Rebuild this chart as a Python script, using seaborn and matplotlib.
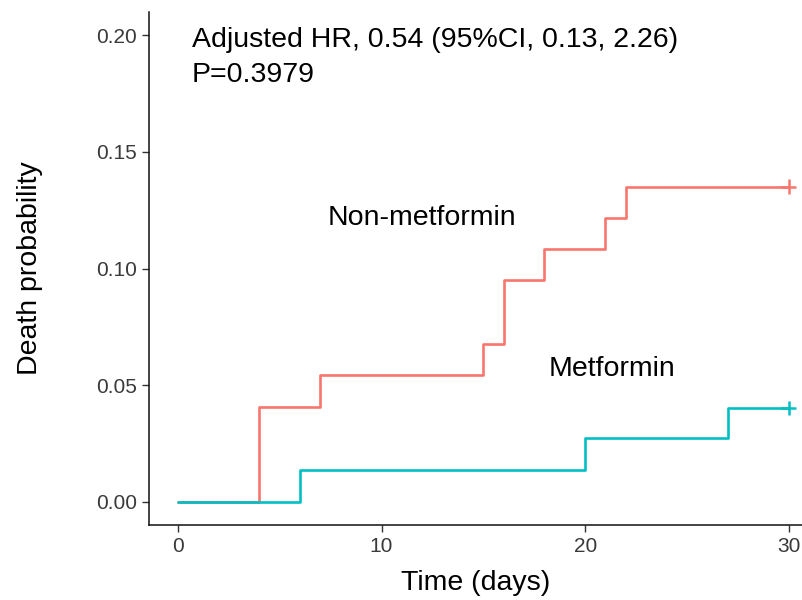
import pandas as pd
import matplotlib
matplotlib.use("Agg")
import matplotlib.pyplot as plt
import seaborn as sns

# ── DATA ──────────────────────────────────────────────────────────────────────

NONMET_TIME = [0, 4, 7, 15, 16, 18, 21, 22, 30]
NONMET_PROB = [0.0, 0.0405, 0.0545, 0.0676, 0.0950, 0.1084, 0.1219, 0.1351, 0.1351]

MET_TIME = [0, 6, 20, 27, 30]
MET_PROB = [0.0, 0.0137, 0.0273, 0.0403, 0.0403]

GROUPS = ["Non-metformin", "Metformin"]
COLORS = {"Non-metformin": "#F8766D", "Metformin": "#00BFC4"}

X_TICKS = [0, 10, 20, 30]
Y_TICKS = [0.00, 0.05, 0.10, 0.15, 0.20]

HR_TEXT = "Adjusted HR, 0.54 (95%CI, 0.13, 2.26)"
P_TEXT = "P=0.3979"

# ── BUILD ─────────────────────────────────────────────────────────────────────

df = pd.concat([
    pd.DataFrame({"time": NONMET_TIME, "prob": NONMET_PROB, "group": GROUPS[0]}),
    pd.DataFrame({"time": MET_TIME, "prob": MET_PROB, "group": GROUPS[1]}),
], ignore_index=True)

censor = df.groupby("group", sort=False).tail(1)

sns.set_theme(style="ticks")
plt.rcParams["font.family"] = ["Liberation Sans", "DejaVu Sans"]
plt.rcParams["text.color"] = "black"
plt.rcParams["axes.labelcolor"] = "black"

fig = plt.figure(figsize=(8.03, 6.0), dpi=100)
ax = fig.add_axes([149 / 803, 75 / 600, 1 - 149 / 803, 513 / 600])

sns.lineplot(data=df, x="time", y="prob", hue="group", palette=COLORS,
             drawstyle="steps-post", estimator=None, sort=False,
             linewidth=1.9, legend=False, ax=ax)
sns.scatterplot(data=censor, x="time", y="prob", hue="group", palette=COLORS,
                marker="+", s=110, linewidth=1.8, legend=False, ax=ax)

ax.set_xlim(-1.42, 30.7)
ax.set_ylim(-0.0099, 0.21)
ax.set_xticks(X_TICKS)
ax.set_yticks(Y_TICKS)
ax.set_yticklabels([f"{v:.2f}" for v in Y_TICKS])

ax.tick_params(axis="both", labelsize=15, labelcolor="#3A3A3A",
               color="#333333", length=5, width=1)
for side in ["left", "bottom"]:
    ax.spines[side].set_color("#111111")
    ax.spines[side].set_linewidth(1.1)
sns.despine(ax=ax)

ax.set_xlabel("Time (days)", fontsize=20.5, labelpad=10)
ax.set_ylabel("Death probability", fontsize=20.5, labelpad=38)

ax.text(0.69, 0.1948, HR_TEXT, fontsize=20.5, ha="left", va="baseline")
ax.text(0.69, 0.1798, P_TEXT, fontsize=20.5, ha="left", va="baseline")
ax.text(12.0, 0.1185, "Non-metformin", fontsize=20.5, ha="center", va="baseline")
ax.text(21.3, 0.0541, "Metformin", fontsize=20.5, ha="center", va="baseline")

fig.savefig("out.png", dpi=100)
